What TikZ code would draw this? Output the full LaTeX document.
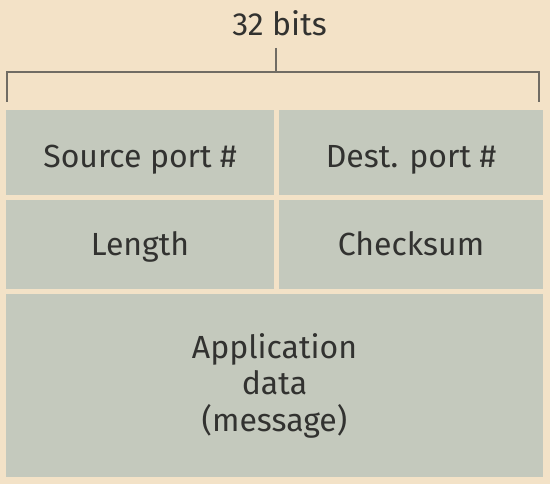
\documentclass[tikz,border=0pt]{standalone}
\usepackage{fontspec}
\setmainfont{Fira Sans}
\usetikzlibrary{positioning, calc}
\definecolor{pagebeige}{RGB}{243, 226, 199}
\definecolor{fieldgray}{RGB}{196, 201, 189}
\definecolor{inkgray}{RGB}{50, 50, 48}
\definecolor{bracketgray}{RGB}{112, 108, 100}

\begin{document}
\begin{tikzpicture}[x=1pt, y=-1pt,
  field/.style={fill=fieldgray, inner sep=0pt, text=inkgray, align=center, font=\fontsize{32}{36.5}\selectfont},
  halffield/.style={field, minimum height=85pt, text height=31pt, text depth=0pt},
  lowfield/.style={field, minimum height=89pt, text height=23pt, text depth=0pt},
  datafield/.style={field, minimum width=537pt, minimum height=183pt},
  widthlabel/.style={text=inkgray, inner sep=0pt, font=\fontsize{32}{36.5}\selectfont},
  bracketline/.style={draw=bracketgray, line width=2pt}
]
  \fill[pagebeige] (0, 0) rectangle (550, 484);
  \useasboundingbox (0, 0) rectangle (550, 484);

  % Header rows
  \node[halffield, minimum width=268pt] (srcport) at (140, 152.5) {Source port \#};
  \node[halffield, minimum width=264pt] (dstport) at (411, 152.5) {Dest. port \#};
  \node[lowfield, minimum width=268pt] (length) at (140, 244.5) {Length};
  \node[lowfield, minimum width=264pt] (checksum) at (411, 244.5) {Checksum};

  % Payload
  \node[datafield] (appdata) at (274.5, 385.5) {Application\\data\\(message)};

  % Width bracket
  \node[widthlabel, anchor=base] (bits) at (279.5, 36) {32 bits};
  \coordinate (tick) at (276, 48);
  \coordinate (bl) at ($(srcport.north west) + (1, -8)$);
  \coordinate (br) at ($(dstport.north east) + (-4, -8)$);
  \draw[bracketline] (bl) |- (tick |- 0, 72) -| (br);
  \draw[bracketline] (tick) -- (tick |- 0, 72);
\end{tikzpicture}
\end{document}
